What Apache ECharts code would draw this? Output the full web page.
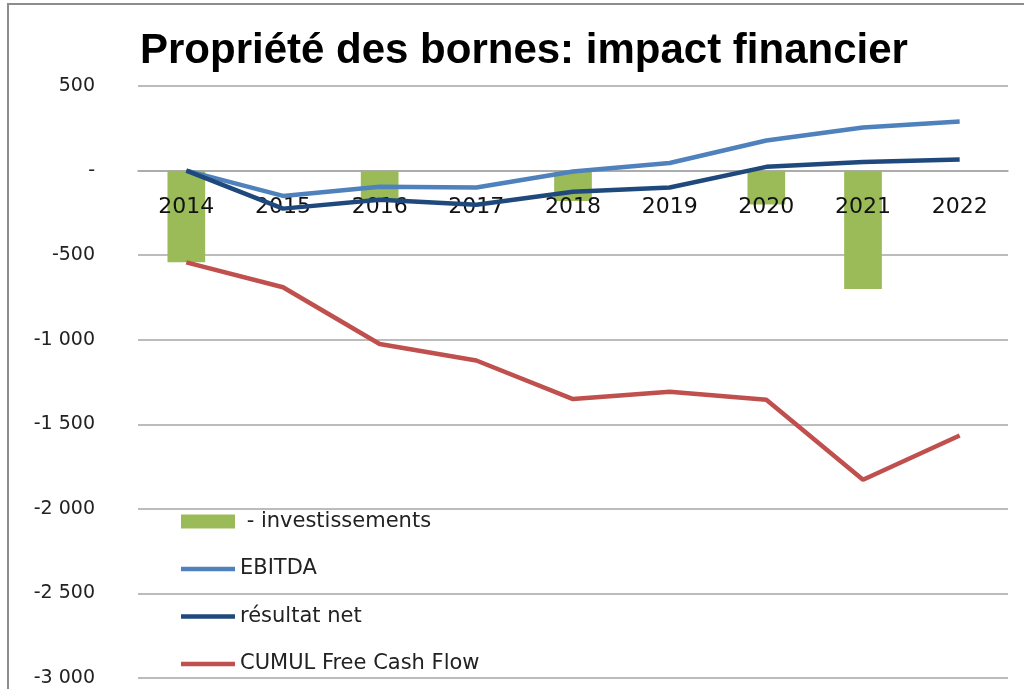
<!DOCTYPE html>
<html>
<head>
<meta charset="utf-8">
<script src="https://cdn.jsdelivr.net/npm/echarts@6/dist/echarts.min.js"></script>
<style>
  html, body { margin: 0; padding: 0; background: #fff; }
  #chart { width: 1024px; height: 689px; }
</style>
</head>
<body>
<div id="chart"></div>
<script>
// données
var annees = ['2014', '2015', '2016', '2017', '2018', '2019', '2020', '2021', '2022'];
var investissements = [-542, 0, -175, 0, -180, 0, -200, -700, 0];
var ebitda = [0, -150, -95, -100, -5, 45, 178, 255, 290];
var resultatNet = [0, -225, -172, -202, -125, -100, 22, 50, 65];
var cumulFcf = [-543, -690, -1025, -1123, -1351, -1308, -1355, -1828, -1566];

var chartDom = document.getElementById('chart');
var myChart = echarts.init(chartDom);
var option;

// format "comptabilité": 0 -> "-", séparateur de milliers espace
function fmtAxe(v) {
  if (v === 0) return '-';
  var s = String(Math.abs(v)).replace(/\B(?=(\d{3})+(?!\d))/g, ' ');
  return (v < 0 ? '-' : '') + s;
}

// grille: 500 en haut (y=86), -3000 en bas (y=678)
var gridTop = 86, gridBottom = 11, yMin = -3000, yMax = 500;
var plotH = 689 - gridTop - gridBottom;
var zeroOffset = -plotH * (0 - yMin) / (yMax - yMin); // remonte l'axe x sur le zéro

var iconLigne = 'path://M0,0 L54,0 L54,4.5 L0,4.5 Z';

option = {
  backgroundColor: '#fff',
  animation: false,
  title: {
    text: 'Propriété des bornes: impact financier',
    left: 135,
    top: 25,
    textStyle: {
      fontFamily: '"Liberation Sans", Arial, sans-serif',
      fontWeight: 'bold',
      fontSize: 42,
      color: '#000'
    }
  },
  graphic: [
    {
      type: 'rect',
      shape: { x: 8, y: 4, width: 1100, height: 800 },
      style: { fill: 'none', stroke: '#8c8c8c', lineWidth: 2 },
      silent: true
    }
  ],
  legend: {
    orient: 'vertical',
    left: 176,
    top: 506,
    itemWidth: 54,
    itemHeight: 14,
    itemGap: 26.5,
    symbolKeepAspect: true,
    textStyle: {
      fontFamily: '"DejaVu Sans", sans-serif',
      fontSize: 21,
      lineHeight: 21,
      color: '#222'
    },
    data: [
      { name: ' - investissements', icon: 'rect' },
      { name: 'EBITDA', icon: iconLigne },
      { name: 'résultat net', icon: iconLigne },
      { name: 'CUMUL Free Cash Flow', icon: iconLigne }
    ]
  },
  grid: {
    left: 138,
    right: 16,
    top: gridTop,
    bottom: gridBottom,
    containLabel: false,
    outerBoundsMode: 'none'
  },
  xAxis: {
    type: 'category',
    data: annees,
    position: 'bottom',
    offset: zeroOffset,
    z: 1.5,
    axisLine: { onZero: false, lineStyle: { color: '#a6a6a6', width: 1.5 } },
    axisTick: { show: false },
    axisLabel: {
      margin: 26,
      fontFamily: '"DejaVu Sans", sans-serif',
      fontSize: 22,
      color: '#111'
    }
  },
  yAxis: {
    type: 'value',
    min: yMin,
    max: yMax,
    interval: 500,
    axisLine: { show: false },
    axisTick: { show: false },
    splitLine: { lineStyle: { color: '#a6a6a6', width: 1.5 } },
    axisLabel: {
      margin: 43,
      formatter: fmtAxe,
      fontFamily: '"DejaVu Sans", sans-serif',
      fontSize: 19,
      color: '#222'
    }
  },
  series: [
    {
      name: ' - investissements',
      type: 'bar',
      z: 1,
      barWidth: '39%',
      itemStyle: { color: '#9bbb59' },
      data: investissements
    },
    {
      name: 'EBITDA',
      type: 'line',
      symbol: 'none',
      lineStyle: { color: '#4f81bd', width: 4.5 },
      itemStyle: { color: '#4f81bd' },
      data: ebitda
    },
    {
      name: 'résultat net',
      type: 'line',
      symbol: 'none',
      lineStyle: { color: '#1f497d', width: 4.5 },
      itemStyle: { color: '#1f497d' },
      data: resultatNet
    },
    {
      name: 'CUMUL Free Cash Flow',
      type: 'line',
      symbol: 'none',
      lineStyle: { color: '#c0504d', width: 4.5 },
      itemStyle: { color: '#c0504d' },
      data: cumulFcf
    }
  ]
};

option && myChart.setOption(option);
</script>
</body>
</html>
